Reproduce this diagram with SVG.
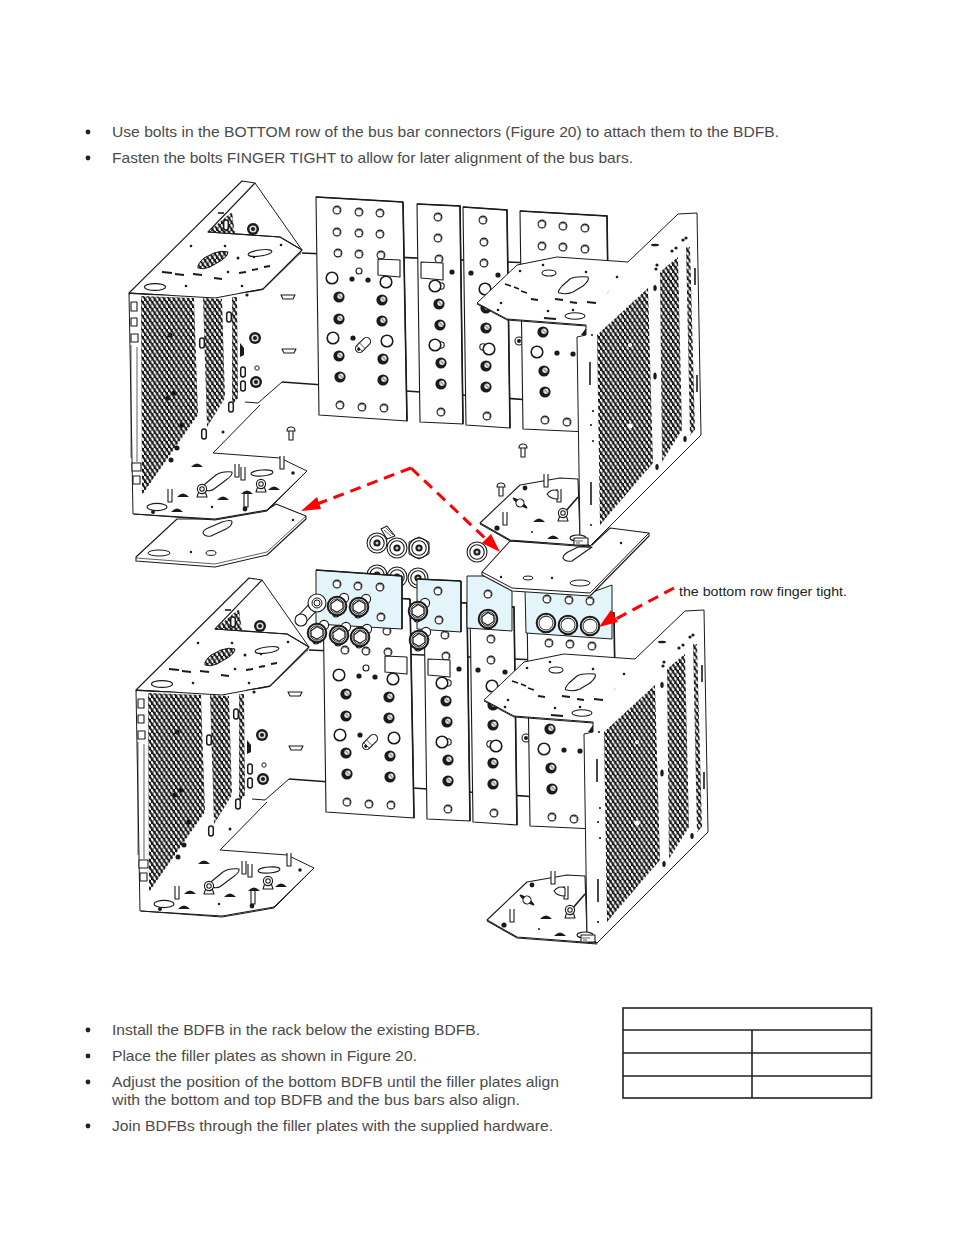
<svg xmlns="http://www.w3.org/2000/svg" width="954" height="1235" viewBox="0 0 954 1235">
<style>
.t{font-family:"Liberation Sans",Arial,sans-serif;font-size:14.6px;fill:#4a4a4a}
.s{font-family:"Liberation Sans",Arial,sans-serif;font-size:13.6px;fill:#222}
.l{fill:none;stroke:#1a1a1a;stroke-width:1;stroke-linejoin:round}
.n{fill:none;stroke:#1a1a1a;stroke-width:.7}
.k{fill:none;stroke:#1a1a1a;stroke-width:1.6}
.w{fill:#fff;stroke:#1a1a1a;stroke-width:1.1;stroke-linejoin:round}
.d{fill:#1a1a1a}
.m{fill:url(#mesh)}
.blue{fill:#e4f4fb;stroke:#1a1a1a;stroke-width:1}
.arr{fill:none;stroke:#f00;stroke-width:3;stroke-dasharray:11 7}
.tb{fill:none;stroke:#222;stroke-width:1.6}
.da{fill:none;stroke:#1a1a1a;stroke-width:1.8}
</style>
<defs>
<pattern id="mesh" width="4.8" height="7" patternUnits="userSpaceOnUse">
<rect width="4.8" height="7" fill="#1c1c1c"/>
<ellipse cx="1.2" cy="1.75" rx="1" ry="2" fill="#fff" transform="rotate(-25 1.2 1.75)"/>
<ellipse cx="3.6" cy="5.25" rx="1" ry="2" fill="#fff" transform="rotate(-25 3.6 5.25)"/>
</pattern>
<g id="h"><circle r="3.9" class="w"/><path d="M-2.6-1.4A3 3 0 0 1 2.6 1.8" class="n"/></g>
<g id="b"><circle r="5.6" class="d"/><circle cx="1" cy="-.8" r="2.7" fill="#ddd"/><path d="M-.6-2.4L2.4.8" stroke="#333" stroke-width=".7"/></g>
<g id="L"><circle r="5.8" fill="#fff" stroke="#1a1a1a" stroke-width="1.6"/></g>
<g id="P"><circle cx="6" r="3.2" class="w"/><circle r="5.8" fill="#fff" stroke="#1a1a1a" stroke-width="1.6"/></g>
<g id="o"><circle r="2.6" class="d"/></g>
<g id="v"><rect x="-2.3" y="-5" width="4.600" height="10" rx="2.2" fill="#fff" stroke="#1a1a1a" stroke-width="1.5"/></g>
<g id="u"><circle r="6" class="d"/><circle r="3.6" fill="#ddd"/><circle r="2" class="d"/></g>
<g id="hxb"><circle r="9.3" fill="#fff" stroke="#1a1a1a" stroke-width="2"/><circle r="7.2" fill="#fff" stroke="#1a1a1a" stroke-width=".9"/><polygon points="-6,-2.200 0,-6.500 5.800,-3.300 6,2.400 0,6.200 -5.800,2.900" class="w"/></g>
<g id="hx"><circle cx="7" cy="-8" r="4.600" class="w"/><circle cx="-1" cy="8" r="3" class="w"/><use href="#hxb"/></g>
<g id="rnd"><circle r="9.300" fill="#fff" stroke="#1a1a1a" stroke-width="2"/><circle r="7" fill="#fff" stroke="#1a1a1a" stroke-width=".9"/><path d="M-6-3A7 7 0 0 1 3-6" class="n"/></g>
<g id="wa"><circle r="10" class="w"/><circle r="7.2" class="w"/><circle r="3.6" class="d"/><circle r="1.5" fill="#ccc"/></g>
<g id="stud"><path d="M-2-6V7H2V-6" class="w"/></g>
<g id="hump"><path d="M-6 2Q0-5 6 2Z" class="d"/></g>
<g id="sb"><rect x="-2" y="-2" width="4" height="10" class="w"/><path d="M-4-1Q-4-5 0-5Q4-5 4-1Z" class="w"/></g>
<g id="eye"><path d="M-5 7L-3 1H3L5 7Z" class="w"/><circle cy="-1" r="4.600" class="w"/><circle cy="-1" r="2.2" class="w"/></g>

<g id="asm">
<!-- left chassis -->
<g id="chassisL">
<path d="M255 183L302 250" class="l" stroke-width="1.3"/>
<polygon points="129,293 242,181 255,183 208,232 280,237 302,250 263,289 215,298" class="w"/>
<polygon points="208,232 232,212 235,234" class="m"/>
<polygon points="129,293 215,298 263,289 302,251 300,255 263,292 215,301 130,296" class="d" opacity=".9"/>
<path d="M208 232L280 237L302 250" class="l"/>
<polygon points="130,294 215,299 263,290 300,254 307,471 267,510 215,519 133,514" fill="#fff"/>
<polygon points="265,292 300,256 318,256 318,385 282,382 258,403 213,453 133,453 133,296" fill="#fff"/>
<path d="M129 293L133 514L215 519L267 510L307 471L280 458L213 453L260 405M258 403L245 402M258 403L282 382" class="l" stroke-width="1.2"/>
<path d="M134 514L215 520L267 511L306 472" class="l" stroke-width="2"/>
<path d="M129 293L215 298L263 289L302 250" class="l" stroke-width="1.6"/>
<polygon points="141,296 194,298 198,415 142,495" class="m"/>
<polygon points="203,298 222,299 225,398 207,427" class="m"/>
<polygon points="232,297 237,297 238,398 232,405" class="m"/>
<path d="M131 345V458M137 347V462" class="n"/>
<rect x="131" y="302" width="6" height="9" class="w"/><rect x="131" y="318" width="6" height="8" class="w"/><rect x="131" y="334" width="7" height="8" class="w"/>
<rect x="132" y="463" width="9" height="8" class="w"/><rect x="133" y="476" width="7" height="8" class="w"/>
<circle cx="170" cy="335" r="2.5" class="d"/><circle cx="174" cy="393" r="2.5" class="d"/><circle cx="168" cy="398" r="2.5" class="d"/><circle cx="182" cy="425" r="2.5" class="d"/><circle cx="177" cy="448" r="2.5" class="d"/><circle cx="171" cy="460" r="2.5" class="d"/>
<!-- top plate details -->
<path d="M198 268Q197 264 204 258L214 253Q222 250 228 252Q228 256 222 260L210 267Q203 270 198 268Z" class="m"/><path d="M198 268Q197 264 204 258L214 253Q222 250 228 252Q228 256 222 260L210 267Q203 270 198 268Z" class="l"/>
<ellipse cx="260" cy="253" rx="12" ry="3" class="l" transform="rotate(-8 260 253)"/>
<ellipse cx="155" cy="287" rx="10.500" ry="3.400" class="w"/>
<path d="M162 272L172 273M175 274L184 275M193 274L202 275M214 278L222 279M239 273L246 272M252 270L258 269M264 267L270 266" class="da"/>
<path d="M218 213L224 213" class="k"/>
<circle cx="191" cy="246" r="1.300" class="d"/><circle cx="225" cy="246" r="1.300" class="d"/><circle cx="238" cy="258" r="1.500" class="d"/><circle cx="254" cy="257" r="1.300" class="d"/><circle cx="186" cy="286" r="1.300" class="d"/><circle cx="242" cy="286" r="1.300" class="d"/><circle cx="228" cy="272" r="1.300" class="d"/><circle cx="281" cy="245" r="1.300" class="d"/><circle cx="247" cy="295" r="1.600" class="d"/>
<use href="#u" x="253" y="229"/><use href="#u" x="255" y="338"/><use href="#u" x="256" y="382"/>
<circle cx="257" cy="368" r="2.200" class="l"/>
<use href="#v" x="226" y="225"/>
<use href="#v" x="229" y="317"/><use href="#v" x="202" y="343"/><use href="#v" x="243" y="372"/><use href="#v" x="243" y="386"/><use href="#v" x="231" y="407"/><use href="#v" x="204" y="434"/>
<path d="M240 343L244 348V355L240 357Z" class="d"/>
<path d="M281 295H295L293 299H283Z" class="w"/><path d="M282 349H296L294 353H284Z" class="w"/>
<!-- bottom plate details -->
<path d="M205 490Q201 490 205 484L216 475Q222 471 232 472Q233 475 226 480L214 489Q210 492 205 490Z" class="w"/>
<ellipse cx="262" cy="473" rx="11" ry="3" class="l" transform="rotate(-4 262 473)"/>
<ellipse cx="157" cy="507" rx="10" ry="3.600" class="w"/>
<use href="#stud" x="237" y="470"/><use href="#stud" x="243" y="473"/><use href="#stud" x="282" y="462"/><use href="#stud" x="170" y="495"/><use href="#stud" x="246" y="500"/>
<use href="#eye" x="202" y="490"/><use href="#eye" x="261" y="485"/>
<use href="#hump" x="183" y="495"/><use href="#hump" x="223" y="498"/><use href="#hump" x="247" y="492"/><use href="#hump" x="274" y="488"/><use href="#hump" x="177" y="510"/><use href="#hump" x="197" y="465"/>
<circle cx="245" cy="509" r="2.400" class="d"/><circle cx="293" cy="473" r="1.800" class="d"/><circle cx="223" cy="432" r="1.500" class="d"/><circle cx="212" cy="507" r="1.200" class="d"/><circle cx="153" cy="512" r="2" class="d"/>
</g>
<!-- rear rails -->
<path d="M302 253L530 263M282 382L530 400" class="k" stroke-width="2"/>
<!-- bus bars -->
<g id="bar1">
<polygon points="316,197 403,202 407,421 319,415" class="w"/>
<path d="M403 202L407 421M316 197L403 202" class="k"/>
<use href="#h" x="337" y="210"/><use href="#h" x="359" y="212"/><use href="#h" x="380" y="213"/>
<use href="#h" x="337" y="232"/><use href="#h" x="359" y="233"/><use href="#h" x="380" y="234"/>
<use href="#h" x="338" y="253"/><use href="#h" x="359" y="254"/><use href="#h" x="381" y="255"/>
<polygon points="378,259 400,260 400,277 378,275" class="w"/>
<circle cx="359" cy="271" r="3" class="w"/>
<use href="#o" x="352" y="279"/><use href="#o" x="368" y="280"/>
<use href="#L" x="332" y="278"/><use href="#L" x="386" y="282"/>
<use href="#b" x="339" y="297"/><use href="#b" x="382" y="300"/>
<use href="#b" x="339" y="319"/><use href="#b" x="382" y="321"/>
<use href="#L" x="333" y="338"/><use href="#L" x="387" y="341"/><use href="#o" x="353" y="338"/>
<g transform="translate(363 345) rotate(-45)"><rect x="-9" y="-4" width="18" height="8" rx="4" class="w"/><path d="M-5-4V4M-1-4V4" class="n"/><circle cx="-6" r="1.600" class="d"/></g>
<use href="#b" x="339" y="356"/><use href="#b" x="383" y="359"/>
<use href="#b" x="340" y="377"/><use href="#b" x="383" y="380"/>
<use href="#h" x="340" y="405"/><use href="#h" x="362" y="407"/><use href="#h" x="384" y="408"/>
</g>
<g id="bar2">
<polygon points="417,204 460,206 463,424 420,422" class="w"/>
<path d="M417 204L460 206L463 424" class="k"/>
<use href="#h" x="438" y="217"/><use href="#h" x="438" y="238"/><use href="#h" x="439" y="259"/>
<polygon points="421,262 443,263 443,280 421,278" class="w"/>
<use href="#o" x="452" y="272"/>
<use href="#P" x="435" y="286"/><use href="#b" x="439" y="304"/><use href="#b" x="440" y="325"/>
<use href="#P" x="435" y="345"/><use href="#b" x="441" y="363"/><use href="#b" x="441" y="384"/>
<use href="#h" x="441" y="412"/>
</g>
<g id="bar3">
<polygon points="463,207 507,210 510,428 466,425" class="w"/>
<path d="M463 207L507 210L510 428" class="k"/>
<use href="#h" x="483" y="220"/><use href="#h" x="484" y="242"/><use href="#h" x="484" y="263"/>
<use href="#o" x="471" y="273"/><use href="#o" x="498" y="275"/>
<use href="#L" x="485" y="289"/><use href="#b" x="486" y="308"/><use href="#b" x="486" y="328"/>
<circle cx="483" cy="347" r="3.200" class="w"/><use href="#L" x="489" y="349"/>
<use href="#b" x="486" y="366"/><use href="#b" x="486" y="387"/><use href="#h" x="487" y="416"/>
</g>
<circle cx="519" cy="341" r="4" class="w"/><circle cx="519" cy="341" r="2" class="d"/>
<g id="bar4">
<polygon points="520,211 607,216 610,433 523,429" class="w"/>
<path d="M520 211L607 216L610 433" class="k"/>
<use href="#h" x="542" y="224"/><use href="#h" x="563" y="226"/><use href="#h" x="585" y="228"/>
<use href="#h" x="542" y="246"/><use href="#h" x="563" y="247"/><use href="#h" x="585" y="249"/>
<use href="#b" x="543" y="332"/><use href="#L" x="537" y="352"/><use href="#o" x="557" y="353"/><use href="#o" x="573" y="354"/>
<use href="#b" x="544" y="371"/><use href="#b" x="545" y="392"/>
<use href="#h" x="545" y="420"/><use href="#h" x="567" y="422"/>
</g>
<!-- right chassis -->
<g id="chassisR">
<polygon points="480,523 520,485 560,478 578,479 580,537 590,546 510,540" class="w"/>
<path d="M480 524L510 541L590 547" class="l" stroke-width="1.800"/>
<polygon points="586,325 628,262 678,214 697,213 701,435 590,546 580,537 577,337" fill="#fff"/>
<path d="M577 337L580 537L590 546" class="l" stroke-width="1.200"/>
<polygon points="597,335 648,288 653,463 600,525" class="m"/>
<polygon points="660,272 678,257 682,430 662,462" class="m"/>
<polygon points="686,247 690,247 695,430 690,435" class="m"/>
<polygon points="477,303 517,265 557,257 628,262 586,325 507,319" fill="#fff"/>
<path d="M586 325L507 319L477 303L517 265L557 257L628 262L678 214L697 213L701 435L590 546" class="l" stroke-width="1.200"/>
<path d="M477 304L507 320L586 326" class="l" stroke-width="2"/>
<path d="M586 325V335L577 337" class="l" stroke-width="1.400"/><polygon points="581,335 586,328 586,335" class="d"/>
<path d="M590 362V385M591 482V505M695 268V285M697 375V392" class="k"/>
<ellipse cx="655" cy="245" rx="4" ry="1.300" class="d"/>
<circle cx="656" cy="269" r="1.600" class="d"/><circle cx="657" cy="265" r="1.600" class="d"/><circle cx="672" cy="251" r="1.600" class="d"/><circle cx="676" cy="248" r="1.600" class="d"/><circle cx="683" cy="240" r="1.600" class="d"/><circle cx="686" cy="238" r="1.600" class="d"/>
<ellipse cx="655" cy="376" rx="1.700" ry="3.500" class="d"/><ellipse cx="657" cy="467" rx="1.700" ry="3" class="d"/><ellipse cx="685" cy="439" rx="1.700" ry="3" class="d"/><ellipse cx="655" cy="288" rx="1.700" ry="3" class="d"/>
<circle cx="592" cy="335" r="1.100" class="d"/><circle cx="593" cy="411" r="1.100" class="d"/><circle cx="591" cy="425" r="1.100" class="d"/><circle cx="593" cy="441" r="1.100" class="d"/><circle cx="591" cy="525" r="1.100" class="d"/><circle cx="630" cy="345" r="2" fill="#fff"/><circle cx="630" cy="426" r="2.500" fill="#fff"/>
<!-- right plate details -->
<path d="M560 293Q556 293 562 286L570 279Q575 276 588 277Q590 280 583 286L573 292Q566 295 560 293Z" class="w"/>
<ellipse cx="549" cy="273" rx="7" ry="3" class="w"/>
<path d="M505 284L511 286M514 287L519 289M521 291L527 293M531 299L538 300M555 299L563 300M570 302L577 303M587 302L596 303M544 318L556 319" class="da"/>
<ellipse cx="575" cy="316" rx="10" ry="3.300" class="w"/>
<circle cx="520" cy="271" r="1.300" class="d"/><circle cx="543" cy="265" r="1.300" class="d"/><circle cx="586" cy="272" r="1.300" class="d"/><circle cx="617" cy="277" r="1.300" class="d"/><circle cx="501" cy="303" r="1.300" class="d"/><circle cx="498" cy="310" r="1.300" class="d"/><circle cx="548" cy="311" r="1.300" class="d"/><circle cx="573" cy="310" r="1.300" class="d"/>
<path d="M565 512L578 497" class="k"/>
<use href="#eye" x="563" y="514"/>
<use href="#stud" x="546" y="480"/><use href="#stud" x="559" y="495"/><use href="#stud" x="505" y="518"/>
<path d="M547 494Q552 488 558 491V499Q550 499 547 494Z" class="w"/>
<g transform="translate(520 503) rotate(35)"><ellipse rx="9" ry="2" class="d"/><circle r="4" class="w"/></g>
<use href="#hump" x="539" y="520"/><use href="#hump" x="553" y="537"/><circle cx="497" cy="528" r="2.600" class="d"/><circle cx="525" cy="488" r="2.400" class="d"/>
<circle cx="532" cy="532" r="1" class="d"/>
<ellipse cx="578" cy="538" rx="8" ry="3" class="w"/><rect x="574" y="538" width="14" height="7" class="w"/><path d="M575 541H583M576 543H580" class="n"/>
</g>
</g>
</defs>

<rect width="954" height="1235" fill="#fff"/>

<g id="text-top">
<circle cx="88" cy="132" r="2.400" fill="#222"/><circle cx="88" cy="158" r="2.400" fill="#222"/>
<text class="t" x="112" y="137" textLength="667" lengthAdjust="spacingAndGlyphs">Use bolts in the BOTTOM row of the bus bar connectors (Figure 20) to attach them to the BDFB.</text>
<text class="t" x="112" y="163" textLength="521" lengthAdjust="spacingAndGlyphs">Fasten the bolts FINGER TIGHT to allow for later alignment of the bus bars.</text>
</g>

<g id="lower-assembly"><use href="#asm" transform="translate(7 397)"/></g>

<g id="connector-plates">
<use href="#wa" x="377" y="575"/><use href="#wa" x="397" y="577"/><use href="#wa" x="418" y="578"/>
<polygon points="316,570 402,576 402,629 316,624" class="blue"/>
<polygon points="417,579 461,581 461,632 417,629" class="blue"/>
<polygon points="467,576 488,576 512,588 512,631 467,628" class="blue"/>
<polygon points="525,589 590,593 612,585 612,639 526,633" class="blue"/>
<use href="#h" x="337" y="584"/><use href="#h" x="358" y="586"/><use href="#h" x="380" y="587"/><use href="#h" x="381" y="617"/>
<use href="#h" x="438" y="591"/><use href="#h" x="439" y="620"/><use href="#h" x="488" y="594"/>
<use href="#h" x="547" y="599"/><use href="#h" x="569" y="600"/><use href="#h" x="590" y="601"/>
<path d="M316 570L402 576M417 579L461 581M402 576V629M461 581V632" class="k"/>
<g><path d="M301 620L317 603" stroke="#1a1a1a" stroke-width="11" stroke-linecap="round"/><path d="M301 620L317 603" stroke="#fff" stroke-width="9" stroke-linecap="round"/><circle cx="301" cy="620" r="6" class="w"/><circle cx="317" cy="603" r="9" class="w"/><circle cx="317" cy="603" r="5" class="l"/><circle cx="317" cy="603" r="3" class="l"/></g>
<use href="#hx" x="337" y="606"/><use href="#hx" x="359" y="607"/>
<use href="#hx" x="317" y="633"/><use href="#hx" x="339" y="635"/><use href="#hx" x="360" y="637"/>
<use href="#hx" x="418" y="611"/><use href="#hx" x="419" y="640"/>
<use href="#hxb" x="488" y="619"/>
<use href="#rnd" x="546" y="623"/><use href="#rnd" x="568" y="625"/><use href="#rnd" x="590" y="626"/>
</g>

<g id="loose-hardware">
<path d="M387 539L381 529L387 526L395 536Z" class="w"/><path d="M384 530L391 536M386 528L393 535" class="n"/>
<use href="#wa" x="377" y="543"/><use href="#wa" x="397" y="548"/><use href="#wa" x="419" y="548"/>
<polygon points="419,537 429,542 429,554 419,559 409,554 409,542" class="l"/>
<use href="#wa" x="477" y="552"/>
</g>

<g id="filler-left">
<polygon points="177,519 136,557 136,561 215,567 267,555 306,519 306,516 276,504 267,510 215,519" class="w"/>
<path d="M136 558L215 564L267 552L306 516" class="n"/>
<path d="M203 533Q203 530 208 528L222 522Q232 519 232 522Q232 526 226 529L211 536Q205 537 203 533Z" class="w"/>
<ellipse cx="159" cy="553" rx="11" ry="3" class="l"/>
<ellipse cx="211" cy="553" rx="5" ry="2.400" class="l"/><circle cx="191" cy="552" r="1.200" class="d"/><circle cx="293" cy="520" r="1.200" class="d"/>
</g>
<g id="filler-right">
<polygon points="510,541 482,572 482,575 512,591 590,596 649,536 649,533 610,528 592,545" class="w"/>
<path d="M482 572L512 588L590 593L649 533" class="l"/>
<path d="M563 558Q563 555 568 552L578 547H592L572 561Q565 562 563 558Z" class="w"/>
<ellipse cx="580" cy="583" rx="10" ry="3" class="l"/><ellipse cx="528" cy="578" rx="5" ry="2" class="l"/>
<circle cx="552" cy="578" r="1.200" class="d"/><circle cx="621" cy="543" r="1.200" class="d"/><circle cx="501" cy="577" r="1.200" class="d"/>
</g>

<g id="upper-assembly"><use href="#asm"/></g>

<g id="small-bolts">
<use href="#sb" x="291" y="432"/><use href="#sb" x="523" y="449"/><use href="#sb" x="501" y="488"/>
</g>

<g id="connectors">
<path d="M411 468L312 506" class="arr"/>
<polygon points="301,511 317,497 321,509" fill="#f00"/>
<path d="M411 468L488 541" class="arr"/>
<polygon points="500,552 482,543 491,534" fill="#f00"/>
<path d="M674 588L614 620" class="arr"/>
<polygon points="599,627 611,610 618,622" fill="#f00"/>
</g>

<text class="s" x="679" y="596" textLength="168" lengthAdjust="spacingAndGlyphs">the bottom row finger tight.</text>

<g id="text-bottom">
<circle cx="88" cy="1030" r="2.400" fill="#222"/><circle cx="88" cy="1056" r="2.400" fill="#222"/><circle cx="88" cy="1082" r="2.400" fill="#222"/><circle cx="88" cy="1126" r="2.400" fill="#222"/>
<text class="t" x="112" y="1035" textLength="368" lengthAdjust="spacingAndGlyphs">Install the BDFB in the rack below the existing BDFB.</text>
<text class="t" x="112" y="1061" textLength="305" lengthAdjust="spacingAndGlyphs">Place the filler plates as shown in Figure 20.</text>
<text class="t" x="112" y="1087" textLength="447" lengthAdjust="spacingAndGlyphs">Adjust the position of the bottom BDFB until the filler plates align</text>
<text class="t" x="112" y="1105" textLength="408" lengthAdjust="spacingAndGlyphs">with the bottom and top BDFB and the bus bars also align.</text>
<text class="t" x="112" y="1131" textLength="441" lengthAdjust="spacingAndGlyphs">Join BDFBs through the filler plates with the supplied hardware.</text>
</g>

<g id="table">
<rect x="623" y="1008" width="248.500" height="90" class="tb"/>
<path d="M623 1030H871.500M623 1053H871.500M623 1076H871.500M752 1030V1098" class="tb"/>
</g>
</svg>
